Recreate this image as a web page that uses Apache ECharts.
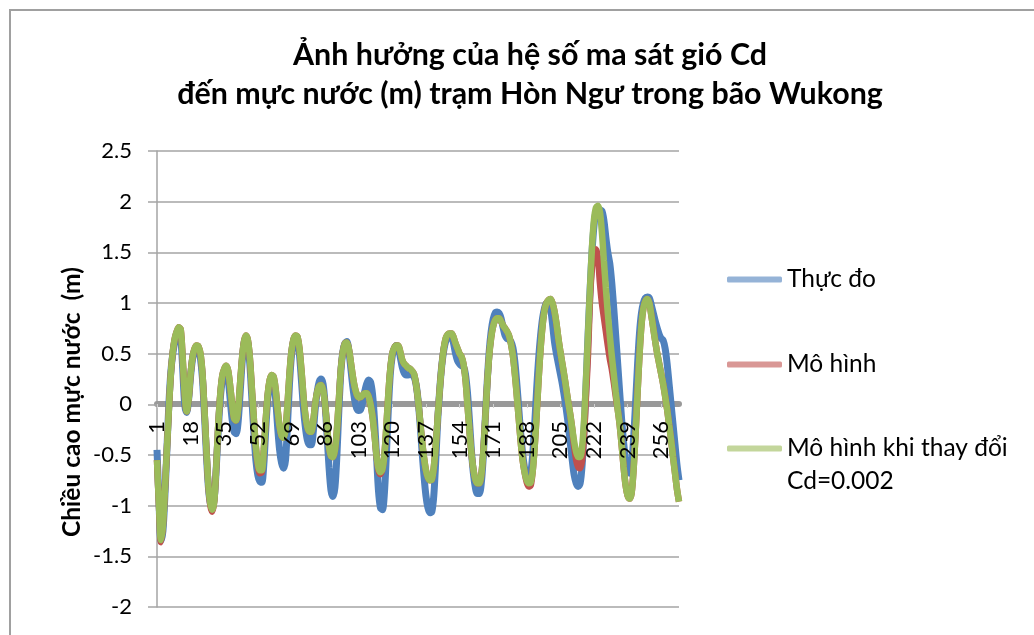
<!DOCTYPE html>
<html>
<head>
<meta charset="utf-8">
<title>Ảnh hưởng của hệ số ma sát gió Cd</title>
<script src="https://cdn.jsdelivr.net/npm/echarts@6/dist/echarts.min.js"></script>
<style>
  html, body { margin: 0; padding: 0; background: #fff; }
  #chart { width: 1034px; height: 635px; }
</style>
</head>
<body>
<div id="chart"></div>
<script>
// chuoi so lieu muc nuoc (m), moi gia tri la mot buoc thoi gian 1..265
const thucDo = [
  -0.45, -0.95, -1.35, -1.25, -0.9, -0.45, 0.0, 0.32, 0.5, 0.62,
  0.7, 0.72, 0.66, 0.35, 0.0, -0.08, 0.05, 0.28, 0.45, 0.53,
  0.56, 0.54, 0.45, 0.25, -0.1, -0.5, -0.82, -0.98, -1.02, -0.92,
  -0.62, -0.25, 0.05, 0.24, 0.33, 0.34, 0.25, 0.05, -0.15, -0.27,
  -0.29, -0.18, 0.1, 0.4, 0.6, 0.66, 0.6, 0.38, 0.05, -0.28,
  -0.55, -0.7, -0.76, -0.77, -0.6, -0.25, 0.05, 0.2, 0.26, 0.23,
  0.05, -0.22, -0.45, -0.58, -0.63, -0.55, -0.2, 0.2, 0.48, 0.62,
  0.66, 0.64, 0.5, 0.25, -0.02, -0.22, -0.35, -0.4, -0.4, -0.28,
  -0.05, 0.12, 0.22, 0.25, 0.2, 0.0, -0.3, -0.62, -0.85, -0.91,
  -0.82, -0.5, -0.05, 0.32, 0.52, 0.6, 0.62, 0.53, 0.36, 0.18,
  0.04, -0.04, -0.06, -0.05, 0.02, 0.12, 0.2, 0.24, 0.22, 0.1,
  -0.15, -0.5, -0.85, -1.02, -1.04, -0.88, -0.5, -0.05, 0.3, 0.48,
  0.55, 0.58, 0.56, 0.47, 0.37, 0.31, 0.29, 0.29, 0.3, 0.29,
  0.27, 0.2, 0.05, -0.18, -0.45, -0.7, -0.9, -1.02, -1.07, -1.06,
  -0.9, -0.55, -0.15, 0.15, 0.38, 0.53, 0.62, 0.66, 0.68, 0.67,
  0.6, 0.5, 0.43, 0.4, 0.38, 0.37, 0.3, 0.12, -0.15, -0.45,
  -0.68, -0.82, -0.88, -0.88, -0.78, -0.52, -0.15, 0.22, 0.52, 0.72,
  0.84, 0.9, 0.91, 0.9, 0.85, 0.76, 0.68, 0.65, 0.64, 0.62,
  0.56, 0.42, 0.2, -0.05, -0.3, -0.5, -0.64, -0.71, -0.72, -0.68,
  -0.5, -0.2, 0.15, 0.45, 0.68, 0.85, 0.95, 1.0, 1.0, 0.95,
  0.8, 0.62, 0.5, 0.4, 0.3, 0.2, 0.08, -0.05, -0.2, -0.38,
  -0.55, -0.7, -0.78, -0.81, -0.78, -0.6, -0.25, 0.2, 0.68, 1.12,
  1.5, 1.76, 1.9, 1.93, 1.92, 1.91, 1.82, 1.65, 1.5, 1.39,
  1.2, 0.95, 0.68, 0.4, 0.12, -0.15, -0.38, -0.55, -0.65, -0.68,
  -0.6, -0.35, 0.0, 0.38, 0.7, 0.9, 1.0, 1.05, 1.06, 1.05,
  0.98, 0.9, 0.82, 0.75, 0.69, 0.65, 0.63, 0.55, 0.4, 0.2,
  0.0, -0.2, -0.4, -0.6, -0.75
]

const moHinh = [
  -0.55, -1.0, -1.36, -1.2, -0.85, -0.45, -0.05, 0.3, 0.52, 0.65,
  0.72, 0.76, 0.74, 0.45, 0.1, -0.07, 0.05, 0.3, 0.47, 0.55,
  0.58, 0.57, 0.5, 0.3, -0.05, -0.45, -0.8, -1.0, -1.06, -0.95,
  -0.6, -0.2, 0.1, 0.28, 0.35, 0.38, 0.33, 0.18, 0.0, -0.14,
  -0.16, -0.05, 0.2, 0.45, 0.62, 0.68, 0.63, 0.45, 0.15, -0.15,
  -0.42, -0.6, -0.68, -0.67, -0.45, -0.15, 0.1, 0.24, 0.29, 0.27,
  0.15, -0.05, -0.22, -0.31, -0.33, -0.25, 0.0, 0.3, 0.52, 0.64,
  0.68, 0.67, 0.56, 0.35, 0.1, -0.1, -0.22, -0.27, -0.27, -0.17,
  0.0, 0.12, 0.18, 0.19, 0.14, 0.0, -0.22, -0.42, -0.51, -0.52,
  -0.45, -0.25, 0.05, 0.35, 0.52, 0.6, 0.61, 0.55, 0.42, 0.28,
  0.17, 0.1, 0.07, 0.07, 0.09, 0.11, 0.11, 0.08, 0.0, -0.12,
  -0.3, -0.5, -0.65, -0.69, -0.64, -0.5, -0.22, 0.1, 0.35, 0.5,
  0.56, 0.58, 0.58, 0.52, 0.44, 0.4, 0.38, 0.36, 0.35, 0.33,
  0.3, 0.2, 0.05, -0.15, -0.35, -0.52, -0.65, -0.72, -0.75, -0.74,
  -0.62, -0.4, -0.12, 0.15, 0.38, 0.55, 0.65, 0.69, 0.7, 0.7,
  0.66, 0.6, 0.55, 0.5, 0.47, 0.4, 0.25, 0.0, -0.25, -0.48,
  -0.64, -0.74, -0.78, -0.78, -0.7, -0.48, -0.15, 0.2, 0.48, 0.66,
  0.77, 0.83, 0.85, 0.85, 0.82, 0.78, 0.75, 0.72, 0.68, 0.6,
  0.48, 0.3, 0.08, -0.15, -0.38, -0.56, -0.68, -0.77, -0.81, -0.8,
  -0.66, -0.42, -0.1, 0.25, 0.55, 0.78, 0.93, 1.0, 1.03, 1.04,
  1.0, 0.92, 0.8, 0.65, 0.52, 0.4, 0.28, 0.15, 0.02, -0.1,
  -0.24, -0.42, -0.55, -0.62, -0.63, -0.55, -0.3, 0.1, 0.5, 1.05,
  1.35, 1.5, 1.53, 1.45, 1.2, 1.0, 0.86, 0.72, 0.58, 0.45,
  0.35, 0.22, 0.08, -0.05, -0.2, -0.4, -0.62, -0.8, -0.9, -0.93,
  -0.88, -0.65, -0.3, 0.1, 0.48, 0.78, 0.95, 1.02, 1.04, 1.0,
  0.88, 0.75, 0.62, 0.5, 0.4, 0.3, 0.2, 0.08, -0.05, -0.2,
  -0.35, -0.52, -0.68, -0.84, -0.96
]

const moHinhCd = [
  -0.55, -1.0, -1.34, -1.2, -0.85, -0.45, -0.05, 0.3, 0.52, 0.65,
  0.72, 0.76, 0.74, 0.45, 0.1, -0.07, 0.05, 0.3, 0.47, 0.55,
  0.58, 0.57, 0.5, 0.3, -0.05, -0.45, -0.8, -0.98, -1.04, -0.95,
  -0.6, -0.2, 0.1, 0.28, 0.35, 0.38, 0.33, 0.18, 0.0, -0.14,
  -0.16, -0.05, 0.2, 0.45, 0.62, 0.68, 0.63, 0.45, 0.15, -0.15,
  -0.42, -0.58, -0.65, -0.65, -0.45, -0.15, 0.1, 0.24, 0.29, 0.27,
  0.15, -0.05, -0.22, -0.31, -0.33, -0.25, 0.0, 0.3, 0.52, 0.64,
  0.68, 0.67, 0.56, 0.35, 0.1, -0.1, -0.22, -0.27, -0.27, -0.17,
  0.0, 0.12, 0.18, 0.19, 0.14, 0.0, -0.22, -0.42, -0.51, -0.52,
  -0.45, -0.25, 0.05, 0.35, 0.52, 0.6, 0.61, 0.55, 0.42, 0.28,
  0.17, 0.1, 0.07, 0.07, 0.09, 0.11, 0.11, 0.08, 0.0, -0.12,
  -0.3, -0.5, -0.63, -0.67, -0.64, -0.5, -0.22, 0.1, 0.35, 0.5,
  0.56, 0.58, 0.58, 0.52, 0.44, 0.4, 0.38, 0.36, 0.35, 0.33,
  0.3, 0.2, 0.05, -0.15, -0.35, -0.52, -0.65, -0.72, -0.75, -0.74,
  -0.62, -0.4, -0.12, 0.15, 0.38, 0.55, 0.65, 0.69, 0.7, 0.7,
  0.66, 0.6, 0.55, 0.5, 0.47, 0.4, 0.25, 0.0, -0.25, -0.48,
  -0.64, -0.74, -0.78, -0.78, -0.7, -0.48, -0.15, 0.2, 0.48, 0.66,
  0.77, 0.83, 0.85, 0.85, 0.82, 0.78, 0.75, 0.72, 0.68, 0.6,
  0.48, 0.3, 0.08, -0.15, -0.38, -0.56, -0.68, -0.75, -0.78, -0.77,
  -0.66, -0.42, -0.1, 0.25, 0.55, 0.78, 0.93, 1.0, 1.03, 1.04,
  1.0, 0.92, 0.8, 0.65, 0.52, 0.4, 0.28, 0.15, 0.02, -0.1,
  -0.24, -0.37, -0.47, -0.52, -0.52, -0.42, -0.15, 0.25, 0.7, 1.15,
  1.55, 1.82, 1.94, 1.96, 1.9, 1.7, 1.42, 1.15, 0.9, 0.68,
  0.48, 0.3, 0.12, -0.05, -0.2, -0.4, -0.62, -0.8, -0.9, -0.93,
  -0.88, -0.65, -0.3, 0.1, 0.48, 0.78, 0.95, 1.02, 1.04, 1.0,
  0.88, 0.75, 0.62, 0.5, 0.4, 0.3, 0.2, 0.08, -0.05, -0.2,
  -0.35, -0.52, -0.68, -0.84, -0.96
]

const buoc = thucDo.map((v, i) => String(i + 1))

const tenThucDo = 'Thực đo'
const tenMoHinh = 'Mô hình'
const tenMoHinhCd = 'Mô hình khi thay đổi\nCd=0.002'

const font = 'Lato, "Open Sans", sans-serif'
const gridColor = '#a5a5a5'

const chart = echarts.init(document.getElementById('chart'), null, { renderer: 'canvas' })

function legendAt(name, top, color, formatter) {
  return {
    data: [{ name: name, itemStyle: { color: color } }],
    orient: 'vertical',
    left: 727,
    top: top,
    padding: 0,
    icon: 'roundRect',
    itemWidth: 55,
    itemHeight: 6,
    itemGap: 0,
    selectedMode: false,
    formatter: formatter,
    textStyle: {
      fontFamily: font,
      fontSize: 24.5,
      color: '#000',
      lineHeight: 33
    }
  }
}

// truc ngang o muc 0: mot truc ve duong (duoi cac duong so lieu), mot truc chi ve nhan (tren cung)
const zeroOffset = -203

chart.setOption({
  backgroundColor: '#fff',
  animation: false,
  color: ['#4f81bd', '#c0504d', '#9bbb59'],
  graphic: [
    {
      type: 'rect',
      shape: { x: 10, y: 10, width: 1100, height: 700 },
      style: { fill: 'none', stroke: '#a0a0a0', lineWidth: 2 },
      silent: true
    },
    {
      type: 'text',
      x: 530,
      y: 36,
      style: {
        text: 'Ảnh hưởng của hệ số ma sát gió Cd\nđến mực nước (m) trạm Hòn Ngư trong bão Wukong',
        align: 'center',
        verticalAlign: 'top',
        fontFamily: font,
        fontWeight: 'bold',
        fontSize: 30.4,
        lineHeight: 39,
        fill: '#000'
      }
    },
    {
      type: 'text',
      x: 72,
      y: 402,
      rotation: Math.PI / 2,
      style: {
        text: 'Chiều cao mực nước  (m)',
        align: 'center',
        verticalAlign: 'middle',
        fontFamily: font,
        fontWeight: 'bold',
        fontSize: 24.5,
        fill: '#000'
      }
    }
  ],
  legend: [
    legendAt(tenThucDo, 263, '#95b3d7'),
    legendAt(tenMoHinh, 348, '#d99795'),
    // dong trong o dau de bieu tuong nam ngang voi dong chu thu nhat
    legendAt(tenMoHinhCd, 399, '#c3d69b', function (n) { return '\n' + n })
  ],
  grid: {
    left: 157,
    right: 355,
    top: 151,
    bottom: 28,
    outerBoundsMode: 'none'
  },
  xAxis: [
    {
      type: 'category',
      data: buoc,
      boundaryGap: false,
      position: 'bottom',
      offset: zeroOffset,
      z: 0,
      axisLine: {
        onZero: false,
        lineStyle: { color: '#999', width: 6 }
      },
      axisTick: {
        show: true,
        interval: 16,
        length: 4,
        lineStyle: { color: '#d0d0d0', width: 1 }
      },
      axisLabel: { show: false },
      splitLine: { show: false }
    },
    {
      type: 'category',
      data: buoc,
      boundaryGap: false,
      position: 'bottom',
      offset: zeroOffset,
      z: 10,
      axisLine: { show: false, onZero: false },
      axisTick: { show: false },
      axisLabel: {
        interval: 16,
        rotate: 90,
        margin: 17,
        fontFamily: font,
        fontSize: 22,
        color: '#000'
      },
      splitLine: { show: false }
    }
  ],
  yAxis: {
    type: 'value',
    min: -2,
    max: 2.5,
    interval: 0.5,
    axisLine: { show: true, lineStyle: { color: gridColor, width: 1.5 } },
    axisTick: { show: true, length: 9, lineStyle: { color: gridColor, width: 1.5 } },
    axisLabel: {
      margin: 25,
      fontFamily: font,
      fontSize: 22,
      color: '#000'
    },
    splitLine: { lineStyle: { color: gridColor, width: 1.5 } }
  },
  series: [
    {
      name: tenThucDo,
      type: 'line',
      data: thucDo,
      symbol: 'none',
      smooth: 0.3,
      lineStyle: { width: 7, color: '#4f81bd' }
    },
    {
      name: tenMoHinh,
      type: 'line',
      data: moHinh,
      symbol: 'none',
      smooth: 0.3,
      lineStyle: { width: 6.5, color: '#c0504d' }
    },
    {
      name: tenMoHinhCd,
      type: 'line',
      data: moHinhCd,
      symbol: 'none',
      smooth: 0.3,
      lineStyle: { width: 6.5, color: '#9bbb59' }
    }
  ]
})
</script>
</body>
</html>
